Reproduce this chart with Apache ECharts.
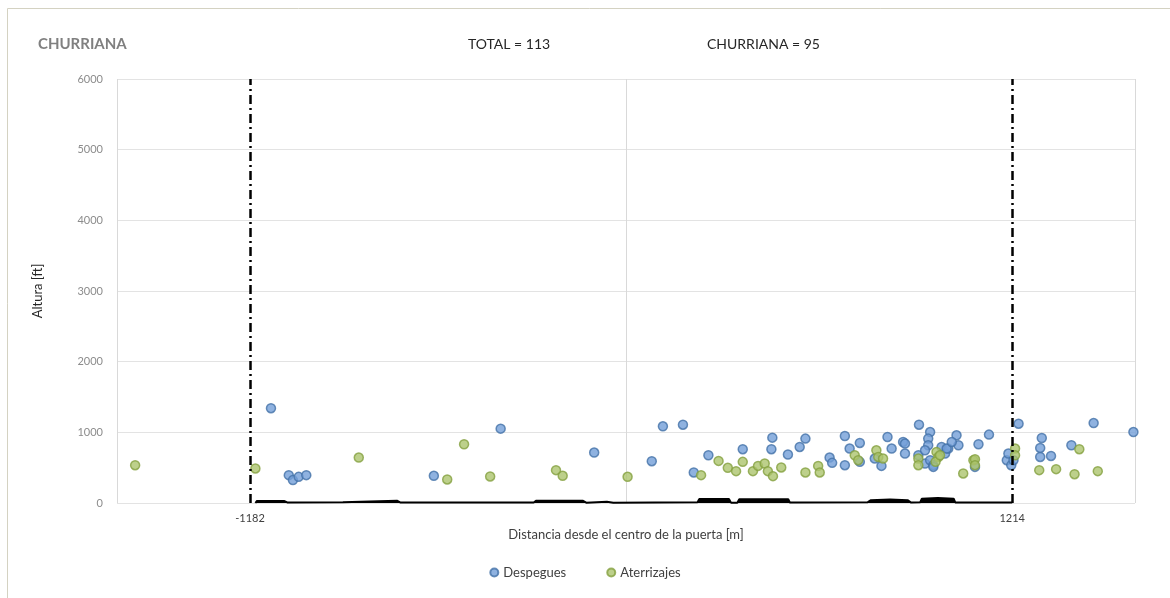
<!DOCTYPE html>
<html>
<head>
<meta charset="utf-8">
<script src="https://cdn.jsdelivr.net/npm/echarts@6/dist/echarts.min.js"></script>
<style>
html,body{margin:0;padding:0;background:#fff;}
#chart{width:1170px;height:598px;}
</style>
</head>
<body>
<div id="chart"></div>
<script>
// ---- Data ----
const despeguesX = [-1116,-1060,-1047,-1029,-1005,-604,-394,-100,81,116,179,213,259,367,460,457,509,546,564,640,648,688,735,703,688,735,822,835,782,803,871,877,877,919,921,956,950,950,940,940,956,966,966,992,1003,1013,1008,1039,1045,1024,1108,1141,1097,1197,1202,1211,1218,1234,1307,1302,1302,1336,1400,1470,1595];
const despeguesY = [1342,394,324,370,394,385,1052,714,592,1085,1108,432,676,761,925,761,686,793,911,643,568,948,850,770,535,582,934,770,629,525,864,700,841,676,1108,1004,911,817,746,559,606,535,511,793,700,770,770,958,817,864,831,968,511,606,700,535,606,1122,920,779,652,666,817,1131,1004];
const aterrizajesX = [-1543,-1165,-840,-562,-509,-427,-220,-199,5,236,291,320,346,367,399,415,436,446,462,488,564,604,609,719,730,787,793,808,919,919,976,982,973,987,1060,1092,1097,1097,1223,1223,1299,1352,1425,1410,1483];
const aterrizajesY = [535,489,643,333,831,376,465,385,371,394,596,498,451,582,451,525,559,451,380,503,432,525,432,676,606,746,652,629,629,535,723,652,582,676,418,606,620,535,770,676,465,479,761,408,451];
const terrainX = [-1165,-1160,-1075,-1065,-890,-885,-720,-710,-290,-283,-135,-125,-60,-40,225,230,324,330,350,356,510,515,760,770,830,885,895,925,930,980,1030,1035,1214];
const terrainH = [0,30,30,8,10,32,32,8,8,32,32,5,18,5,12,55,55,5,5,52,52,8,12,40,50,40,8,12,60,70,60,8,6];
const gateLines = [-1182, 1214];
const yTicks = [0,1000,2000,3000,4000,5000,6000];
const titleMain = 'CHURRIANA';
const titleTotal = 'TOTAL = 113';
const titleLocal = 'CHURRIANA = 95';

const FONT = 'Lato';
const pair = (xs, ys) => xs.map((x, i) => [x, ys[i]]);

const chart = echarts.init(document.getElementById('chart'));
chart.setOption({
  backgroundColor: '#fff',
  animation: false,
  textStyle: { fontFamily: FONT },
  graphic: [
    { type: 'rect', shape: { x: 7.5, y: 8.5, width: 1180, height: 620 }, style: { fill: 'none', stroke: '#d4d2c2', lineWidth: 1 }, silent: true },
    { type: 'text', left: 38, top: 37, style: { text: titleMain, fontFamily: FONT, fontSize: 15, fontWeight: 'bold', fill: '#808080' } },
    { type: 'text', left: 468, top: 37, style: { text: titleTotal, fontFamily: FONT, fontSize: 14, fill: '#262626' } },
    { type: 'text', left: 707, top: 37, style: { text: titleLocal, fontFamily: FONT, fontSize: 14, fill: '#262626' } }
  ],
  grid: { left: 117, right: 35, top: 79, bottom: 95, containLabel: false },
  legend: {
    bottom: 14, left: 'center', itemGap: 40, itemWidth: 8, itemHeight: 8,
    icon: 'circle',
    textStyle: { fontFamily: FONT, fontSize: 13, color: '#404040' },
    data: ['Despegues', 'Aterrizajes']
  },
  xAxis: {
    type: 'value', min: -1600, max: 1600, interval: 1600,
    name: 'Distancia desde el centro de la puerta [m]',
    nameLocation: 'middle', nameGap: 25,
    nameTextStyle: { fontFamily: FONT, fontSize: 13, color: '#404040' },
    axisLine: { show: false }, axisTick: { show: false }, axisLabel: { show: false },
    splitLine: { show: true, lineStyle: { color: '#d9d9d9', width: 1 } }
  },
  yAxis: {
    type: 'value', min: 0, max: 6000, interval: 1000,
    name: 'Altura [ft]', nameLocation: 'middle', nameGap: 73, nameRotate: 90,
    nameTextStyle: { fontFamily: FONT, fontSize: 13, color: '#262626' },
    axisLine: { show: false }, axisTick: { show: false },
    axisLabel: { fontFamily: FONT, fontSize: 11, color: '#8c8c8c', margin: 14,
      formatter: v => yTicks.includes(v) ? String(v) : '' },
    splitLine: { show: true, lineStyle: { color: '#e3e3e3', width: 1 } }
  },
  series: [
    {
      name: 'Terreno', type: 'line', data: pair(terrainX, terrainH),
      symbol: 'none', silent: true, z: 1,
      lineStyle: { color: '#000', width: 2 }, areaStyle: { color: '#000', opacity: 1 },
      markLine: {
        silent: true, symbol: ['none', 'none'],
        lineStyle: { color: '#000', width: 2.5, type: [9, 4, 2, 4] },
        label: { show: true, position: 'start', distance: 10, fontFamily: FONT, fontSize: 11, color: '#404040', formatter: p => String(p.value) },
        data: gateLines.map(g => [{ coord: [g, 0], value: g }, { coord: [g, 6000], value: g }])
      }
    },
    {
      name: 'Despegues', type: 'scatter', data: pair(despeguesX, despeguesY),
      symbol: 'circle', symbolSize: 9, z: 3,
      itemStyle: { color: '#739fd8', borderColor: '#4472a8', borderWidth: 1.5 }
    },
    {
      name: 'Aterrizajes', type: 'scatter', data: pair(aterrizajesX, aterrizajesY),
      symbol: 'circle', symbolSize: 9, z: 4,
      itemStyle: { color: '#acc46e', borderColor: '#84a040', borderWidth: 1.5 }
    }
  ]
});
</script>
</body>
</html>
